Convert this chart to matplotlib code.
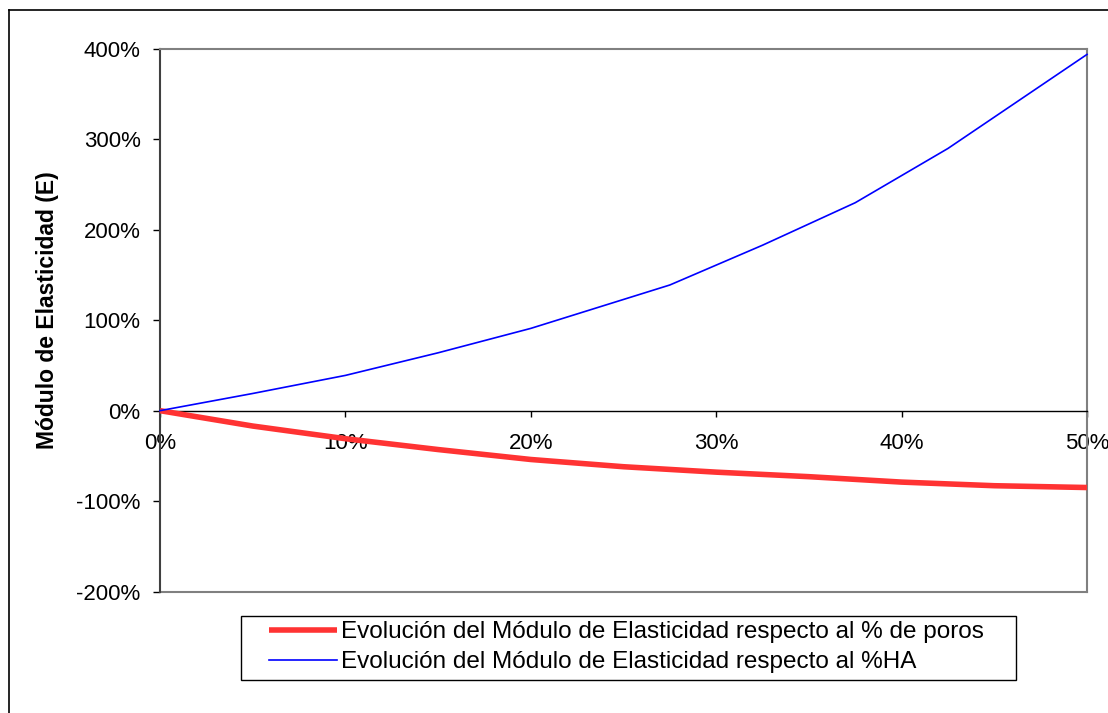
import numpy as np
import matplotlib.pyplot as plt
from matplotlib.lines import Line2D
from matplotlib.patches import Rectangle
from matplotlib.ticker import FuncFormatter

plt.rcParams['font.family'] = ['Liberation Sans', 'DejaVu Sans']

# datos (x en %, y en %)
poros_x = [0, 5, 10, 15, 20, 25, 30, 35, 40, 45, 50]
poros_y = [0, -17, -31, -43, -54, -62, -68, -73, -79, -83, -85]

ha_x = [0, 5, 10, 15, 20, 27.5, 32.5, 37.5, 42.5, 50]
ha_y = [0, 19, 39, 64, 91, 139, 183, 230, 290, 394]

lbl_poros = 'Evolución del Módulo de Elasticidad respecto al % de poros'
lbl_ha = 'Evolución del Módulo de Elasticidad respecto al %HA'
ylabel = 'Módulo de Elasticidad (E)'

W, H = 1108, 713
fig = plt.figure(figsize=(W / 100, H / 100), dpi=100)
ax = fig.add_axes([160 / W, 1 - 591.5 / H, (1087 - 160) / W, (591.5 - 49) / H])

ax.plot(poros_x, poros_y, color='#FF3333', lw=4.0, label=lbl_poros,
        solid_capstyle='butt', clip_on=False, zorder=3)
ax.plot(ha_x, ha_y, color='#0000FF', lw=1.2, label=lbl_ha,
        clip_on=False, zorder=3)

ax.set_xlim(0, 50)
ax.set_ylim(-200, 400)
ax.set_xticks(np.arange(0, 51, 10))
ax.set_yticks(np.arange(-200, 401, 100))
pct = FuncFormatter(lambda v, p: '%d%%' % v)
ax.xaxis.set_major_formatter(pct)
ax.yaxis.set_major_formatter(pct)

# eje x en y=0
ax.spines['bottom'].set_position(('data', 0))
ax.spines['bottom'].set_color('black')
ax.spines['bottom'].set_linewidth(1.0)
ax.spines['left'].set_color('#404040')
ax.spines['left'].set_linewidth(1.5)
for s in ['top', 'right']:
    ax.spines[s].set_color('#808080')
    ax.spines[s].set_linewidth(1.5)
ax.axhline(-200, color='#808080', lw=1.5, clip_on=False, zorder=2.5)

ax.tick_params(axis='x', direction='out', length=4, width=1, pad=12,
               labelsize=16, colors='black')
ax.tick_params(axis='y', direction='out', length=5, width=1, pad=9,
               labelsize=16, colors='black')
for t in ax.get_yticklines():
    t.set_color('#404040')

fig.text(48 / W, 1 - 310 / H, ylabel, rotation=90, ha='center', va='center',
         fontsize=16.5, fontweight='bold')

# leyenda
leg = ax.legend(loc='upper left', bbox_to_anchor=(269 / W, 1 - 621 / H),
                bbox_transform=fig.transFigure, frameon=False, fontsize=17.5,
                borderpad=0, borderaxespad=0, handlelength=2.8,
                handletextpad=0.18, labelspacing=0.33)
fig.add_artist(Rectangle((241 / W, 1 - 680 / H), (1016 - 241) / W, 64 / H,
                         transform=fig.transFigure, fill=False,
                         edgecolor='black', lw=1.0))

# borde del area del grafico
fig.add_artist(Line2D([8.5 / W, 8.5 / W], [0, 1 - 10 / H], color='black',
                      lw=1.2, transform=fig.transFigure))
fig.add_artist(Line2D([8.5 / W, 1], [1 - 10 / H, 1 - 10 / H], color='black',
                      lw=1.2, transform=fig.transFigure))

fig.savefig('out.png', dpi=100)
